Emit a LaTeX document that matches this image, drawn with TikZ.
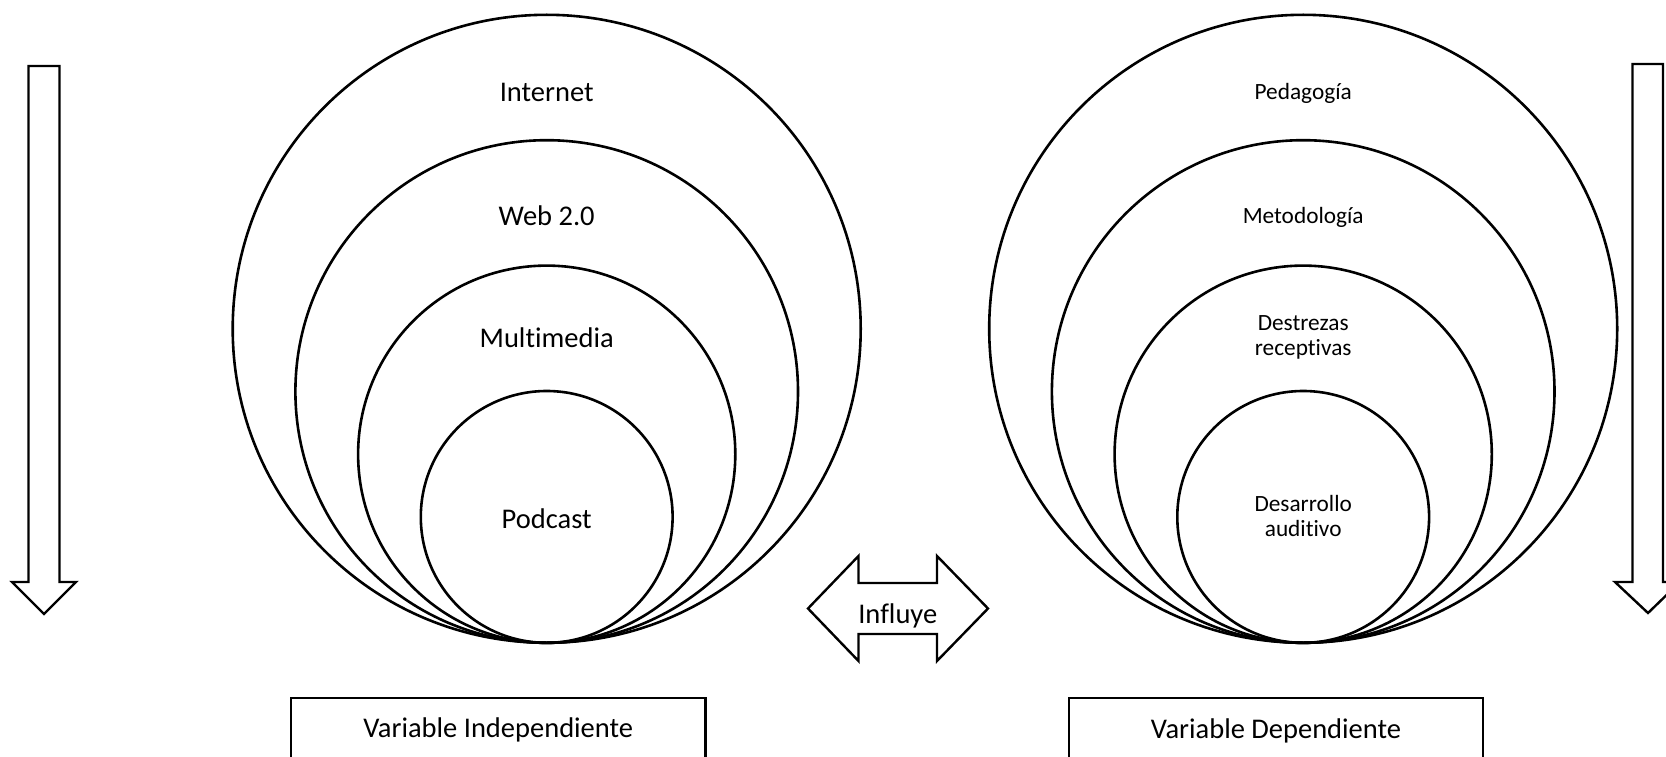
\documentclass[tikz,border=0pt]{standalone}
\usepackage{fontspec}
\setmainfont{Carlito}[Ligatures={NoCommon}]
\tikzset{
  ring/.style={draw, line width=2.6pt},
  shapeline/.style={draw, line width=2.4pt, fill=white},
  bigtxt/.style={font=\fontsize{28.5}{31}\selectfont, inner sep=0pt, anchor=base},
  smalltxt/.style={font=\fontsize{23.3}{25}\selectfont, inner sep=0pt, anchor=base},
  varbox/.style={draw, line width=2.4pt}
}
\newcommand{\twolines}[2]{\renewcommand{\arraystretch}{1}\setlength{\tabcolsep}{0pt}\begin{tabular}[t]{c}#1\\#2\end{tabular}}
\begin{document}
\begin{tikzpicture}[x=1pt,y=-1pt]
\useasboundingbox (0,0) rectangle (1666,757);
\clip (0,0) rectangle (1666,757);
% left nested circles
\draw[ring] (546.7,328.8) circle[radius=314pt];
\draw[ring] (546.7,391.5) circle[radius=251.3pt];
\draw[ring] (546.7,454.2) circle[radius=188.6pt];
\draw[ring] (546.7,516.9) circle[radius=125.9pt];
\node[bigtxt] (internet) at (546.7,101.7) {Internet};
\node[bigtxt] (web) at (546.7,225) {Web 2.0};
\node[bigtxt] (multi) at (546.7,347) {Multimedia};
\node[bigtxt] (podcast) at (546.7,528) {Podcast};
% right nested circles
\draw[ring] (1303.2,328.8) circle[radius=314pt];
\draw[ring] (1303.2,391.5) circle[radius=251.3pt];
\draw[ring] (1303.2,454.2) circle[radius=188.6pt];
\draw[ring] (1303.2,516.9) circle[radius=125.9pt];
\node[smalltxt] (peda) at (1303.2,100) {Pedagogía};
\node[smalltxt] (meto) at (1303.2,223) {Metodología};
\node[smalltxt] (destr) at (1303.2,330.5) {\twolines{Destrezas}{receptivas}};
\node[smalltxt] (desa) at (1303.2,511.7) {\twolines{Desarrollo}{auditivo}};
% vertical block arrows
\path[shapeline] (28.5,66) -- (59.5,66) -- (59.5,582) -- (76,582) -- (44,614) -- (12,582) -- (28.5,582) -- cycle;
\path[shapeline] (1632.5,64) -- (1663,64) -- (1663,582) -- (1680,582) -- (1648,613) -- (1615,582) -- (1632.5,582) -- cycle;
% double arrow
\node[bigtxt] (influye) at (897.75,623) {Influye};
\path[draw, line width=2.4pt] (808,608.5) -- (858.5,556) -- (858.5,583) -- (937,583) -- (937,556) -- (988,608.5) -- (937,661) -- (937,634) -- (858.5,634) -- (858.5,661) -- cycle;
% variable boxes
\node[varbox, minimum width=414.5pt, minimum height=120pt, inner sep=0pt, anchor=north] (vi) at (498.25,697) {};
\node[bigtxt] (vitxt) at (498.25,737.5) {Variable Independiente};
\node[varbox, minimum width=414pt, minimum height=120pt, inner sep=0pt, anchor=north] (vd) at (1276,697) {};
\node[bigtxt] (vdtxt) at (1276,738) {Variable Dependiente};
\end{tikzpicture}
\end{document}
